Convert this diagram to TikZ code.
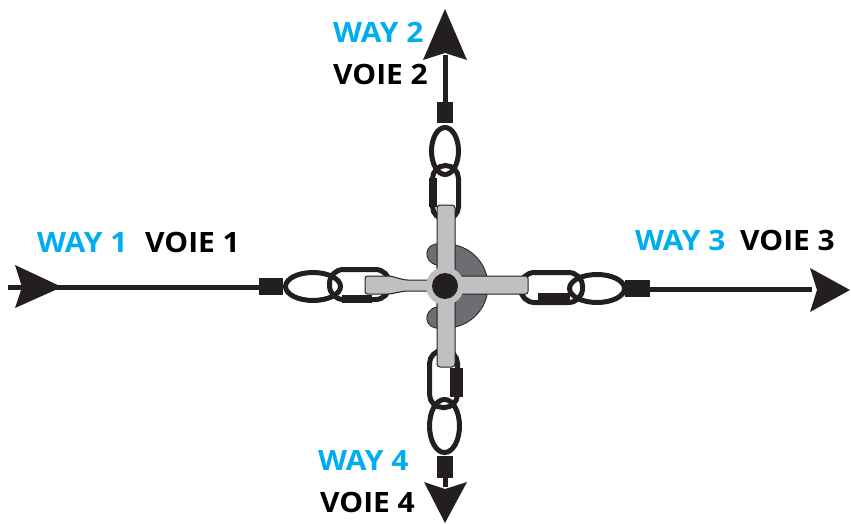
\documentclass[tikz,border=0pt]{standalone}
\usepackage{fontspec}
\newfontfamily\labfont{Open Sans}[FakeStretch=1.07]
\definecolor{cyanw}{RGB}{0,174,239}
\definecolor{ink}{RGB}{35,31,32}
\definecolor{lgray}{RGB}{190,192,194}
\definecolor{dgray}{RGB}{109,110,113}
\begin{document}
\begin{tikzpicture}[x=1pt,y=-1pt,
  lab/.style={font=\labfont\bfseries\fontsize{28}{32}\selectfont, inner sep=0pt, anchor=base west},
  way/.style={lab, text=cyanw},
  voie/.style={lab, text=black},
  link/.style={draw=ink, line width=5pt},
  shaft/.style={draw=ink, line width=5pt},
  tiphead/.style={fill=ink},
  blk/.style={fill=ink},
  arm/.style={fill=lgray, draw=ink, line width=1pt, line join=round},
  hub/.style={fill=dgray, draw=ink, line width=0.8pt}]
\useasboundingbox (0,0) rectangle (851,524);
% named end points
\coordinate (l0) at (8,287);   \coordinate (l1) at (259,287);
\coordinate (r0) at (650,289); \coordinate (r1) at (812,289);
\coordinate (t0) at (445,123); \coordinate (t1) at (445,55);
\coordinate (b0) at (445,478); \coordinate (b1) at (445,487);
% left way
\draw[shaft] (l0) -- (l1);
\fill[tiphead] (62,287) -- (15,265) -- (22,287) -- (15,308) -- cycle;
\fill[blk] (259,278) rectangle (283,295);
\draw[link] (313,286.5) ellipse [x radius=27.5, y radius=14];
\draw[link, rounded corners=14pt] (329.5,269.5) rectangle (389.5,299.5);
\fill[blk] (342,295) rectangle (372,303);
% right way
\draw[link, rounded corners=14pt] (520.5,272.5) rectangle (582.5,302.5);
\fill[blk] (538,293) rectangle (570,305);
\draw[link] (597,288.5) ellipse [x radius=27.5, y radius=14];
\fill[blk] (625,280) rectangle (650,297);
\draw[shaft] (r0) -- (r1);
\fill[tiphead] (850,290) -- (810,268) -- (817,290) -- (810,312) -- cycle;
% top way
\draw[shaft] (t0) -- (t1);
\fill[tiphead] (445,9) -- (423,60) -- (445,53) -- (467,60) -- cycle;
\fill[blk] (437,102) rectangle (453,123);
\draw[link] (445,151) ellipse [x radius=13.5, y radius=23.5];
\draw[link, rounded corners=13pt] (432.5,165.5) rectangle (458.5,219.5);
\fill[blk] (429,178) rectangle (437,207);
% bottom way
\draw[link, rounded corners=13pt] (429.5,350.5) rectangle (457.5,407.5);
\fill[blk] (450,368) rectangle (463,397);
\draw[link] (444.5,426) ellipse [x radius=15, y radius=26.5];
\fill[blk] (437,456) rectangle (453,478);
\draw[shaft] (b0) -- (b1);
\fill[tiphead] (445,523) -- (424,482) -- (445,489) -- (467,482) -- cycle;
% hub
\path[hub] (446,244) arc[start angle=-90, end angle=90, radius=42]
  -- (440,328) .. controls (424,330) and (422,310) .. (437,307)
  -- (437,265) .. controls (422,262) and (424,242) .. (440,244) -- cycle;
\draw[arm, rounded corners=3pt] (437,205) rectangle (455,367);
\draw[arm, rounded corners=2.5pt] (365,276) -- (390,276) -- (405,280) -- (440,280)
  -- (440,276) -- (528,276) -- (528,294) -- (440,294) -- (440,291) -- (405,291)
  -- (390,294) -- (365,294) -- cycle;
\fill[lgray] (445,286) circle [radius=19];
\fill[ink] (445,286) circle [radius=13];
% labels
\node[way]  (way1)  at (37,252)  {WAY 1};
\node[voie] (voie1) at (145,252) {VOIE 1};
\node[way]  (way2)  at (333,43)  {WAY 2};
\node[voie] (voie2) at (333,85)  {VOIE 2};
\node[way]  (way3)  at (635,250) {WAY 3};
\node[voie] (voie3) at (740,250) {VOIE 3};
\node[way]  (way4)  at (318,470) {WAY 4};
\node[voie] (voie4) at (320,512) {VOIE 4};
\end{tikzpicture}
\end{document}
